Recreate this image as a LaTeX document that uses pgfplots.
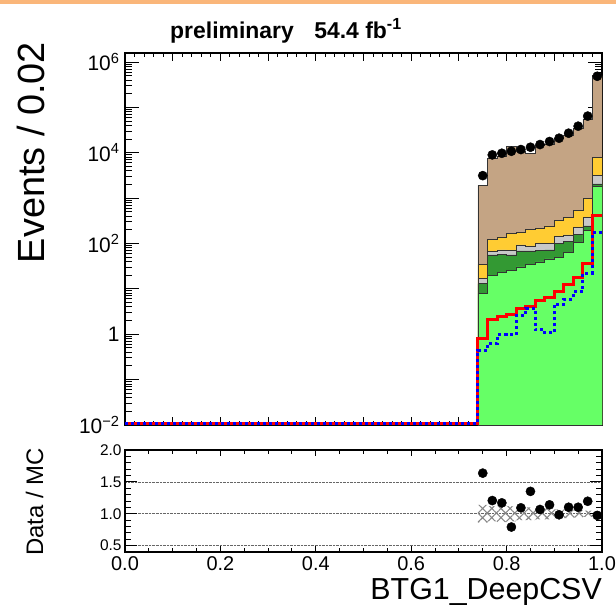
\documentclass[border=0pt]{standalone}
\usepackage{fontspec}
\setmainfont{Liberation Sans}
\usepackage{pgfplots}
\usepackage{pgfplotstable}
\pgfplotsset{compat=1.18}
\usetikzlibrary{patterns.meta}
\definecolor{cbrown}{RGB}{196,164,132}
\definecolor{cyellow}{RGB}{255,204,51}
\definecolor{cgrey}{RGB}{200,200,200}
\definecolor{cdkgreen}{RGB}{51,153,51}
\definecolor{clgreen}{RGB}{102,255,102}
\definecolor{corange}{RGB}{250,182,122}
\definecolor{chatch}{RGB}{135,135,135}

\pgfplotstableread{
x T Y G D L
0.74 1914 34.8 17.1 13.0 7.95
0.76 7435 124.5 66.2 56.0 20.2
0.78 8326 140 72.1 58.0 22.7
0.80 13620 165.6 71.1 56.0 25.6
0.82 10770 174.3 93.1 68.6 30.4
0.84 9800 207 88.5 68.6 34.8
0.86 14220 218 99.5 71.1 39.2
0.88 15530 245 99.5 72.1 45.6
0.90 21280 316 142 100 48.8
0.92 24480 374 155 110 62.9
0.94 34980 545 225 160.6 104.7
0.96 53740 984 374 245 197
0.98 498000 7940 3130 2050 1786
1.00 498000 7940 3130 2050 1786
}\mc

\pgfplotstableread{
x R B
0.00 0.0108 0.0108
0.74 0.80 0.44
0.76 2.11 0.63
0.78 2.41 0.98
0.80 2.73 0.98
0.82 3.70 2.6
0.84 4.16 3.76
0.86 5.57 1.27
0.88 6.36 1.07
0.90 8.94 4.54
0.92 12.6 5.86
0.94 18.2 8.63
0.96 36.7 22.0
0.98 423 174
1.00 423 174
}\sig

\pgfplotstableread{
x d r
0.75 3133 1.637
0.77 8974 1.207
0.79 9750 1.171
0.81 10790 0.792
0.83 11770 1.093
0.85 13240 1.351
0.87 15170 1.067
0.89 17700 1.140
0.91 20940 0.984
0.93 26980 1.102
0.95 38550 1.102
0.97 64270 1.196
0.99 485300 0.974
}\dat

% MC uncertainty band outline: upper edge forward, lower edge backward
\pgfplotstableread{
x y
0.74 1.14
0.76 1.14
0.76 1.12
0.78 1.12
0.78 1.13
0.80 1.13
0.80 1.12
0.82 1.12
0.82 1.10
0.86 1.10
0.86 1.09
0.90 1.09
0.90 1.07
0.94 1.07
0.94 1.06
0.96 1.06
0.96 1.05
0.98 1.05
0.98 1.04
1.00 1.04
1.00 0.96
0.98 0.96
0.98 0.95
0.96 0.95
0.96 0.94
0.94 0.94
0.94 0.93
0.90 0.93
0.90 0.91
0.86 0.91
0.86 0.90
0.82 0.90
0.82 0.88
0.80 0.88
0.80 0.87
0.78 0.87
0.78 0.88
0.76 0.88
0.76 0.86
0.74 0.86
}\band

\begin{document}
\begin{tikzpicture}
\path[use as bounding box] (0,0) rectangle (616bp,-605bp);
\fill[corange] (0,0) rectangle (616bp,-3.5bp);

% main panel: x ticks only (drawn below the histograms)
\begin{axis}[
  at={(125bp,-425bp)}, anchor=south west, scale only axis,
  width=477bp, height=372bp,
  xmin=0, xmax=1, ymin=0, ymax=1,
  axis line style={line width=1.5bp},
  tick align=inside, tick style={black, line width=1bp},
  major tick length=8bp, minor tick length=4bp,
  xtick={0,0.1,0.2,0.3,0.4,0.5,0.6,0.7,0.8,0.9,1}, xticklabels={}, minor x tick num=4,
  ytick=\empty,
]
\addplot[draw=none] coordinates {(0.5,0.5)};
\end{axis}

% main panel: histograms, y ticks
\begin{axis}[
  at={(125bp,-425bp)}, anchor=south west, scale only axis,
  width=477bp, height=372bp,
  xmin=0, xmax=1, ymode=log, ymin=0.01, ymax=1.58e6, log origin=infty,
  axis line style={line width=1.5bp},
  tick align=inside, tick style={black, line width=1bp},
  major tick length=14bp, minor tick length=7bp,
  xtick=\empty,
  ytick={1e-2,1e-1,1,1e1,1e2,1e3,1e4,1e5,1e6},
  yticklabels={10\textsuperscript{−2},,1,,10\textsuperscript{2},,10\textsuperscript{4},,10\textsuperscript{6}},
  minor ytick={2e-2,3e-2,4e-2,5e-2,6e-2,7e-2,8e-2,9e-2,
    0.2,0.3,0.4,0.5,0.6,0.7,0.8,0.9,2,3,4,5,6,7,8,9,
    20,30,40,50,60,70,80,90,200,300,400,500,600,700,800,900,
    2000,3000,4000,5000,6000,7000,8000,9000,
    2e4,3e4,4e4,5e4,6e4,7e4,8e4,9e4,2e5,3e5,4e5,5e5,6e5,7e5,8e5,9e5},
  yticklabel style={font=\fontsize{21}{24}\selectfont, xshift=-2bp},
]
\addplot[const plot, fill=cbrown, draw=black!80, line width=0.7bp] table[x=x,y=T]{\mc} \closedcycle;
\addplot[const plot, fill=cyellow, draw=black!80, line width=0.7bp] table[x=x,y=Y]{\mc} \closedcycle;
\addplot[const plot, fill=cgrey, draw=black!80, line width=0.7bp] table[x=x,y=G]{\mc} \closedcycle;
\addplot[const plot, fill=cdkgreen, draw=black!80, line width=0.7bp] table[x=x,y=D]{\mc} \closedcycle;
\addplot[const plot, fill=clgreen, draw=black!80, line width=0.7bp] table[x=x,y=L]{\mc} \closedcycle;
\addplot[const plot, red, line width=3bp] table[x=x,y=R]{\sig};
\addplot[const plot, blue, line width=3bp, dash pattern=on 3bp off 3bp] table[x=x,y=B]{\sig};
\addplot[only marks, mark=*, mark size=4.6bp, black] table[x=x,y=d]{\dat};
\end{axis}

% ratio panel: x ticks (short) and labels, band
\begin{axis}[
  at={(125bp,-552bp)}, anchor=south west, scale only axis,
  width=477bp, height=102bp,
  xmin=0, xmax=1, ymin=0.4, ymax=2.0,
  axis line style={line width=1.5bp},
  tick align=inside, tick style={black, line width=1bp},
  major tick length=6bp, minor tick length=4bp,
  xtick={0,0.2,0.4,0.6,0.8,1}, minor x tick num=3,
  ytick={0.5,1,1.5}, yticklabels={}, 
  ymajorgrids, grid style={densely dotted, black!60, line width=0.7bp},
  /pgf/number format/assume math mode=true,
  xticklabel style={font=\fontsize{20}{24}\selectfont, yshift=-1bp, /pgf/number format/fixed, /pgf/number format/fixed zerofill, /pgf/number format/precision=1},
]
\addplot[draw=none, pattern={Hatch[angle=45,distance=6.5bp,line width=1.1bp]}, pattern color=chatch] table[x=x,y=y]{\band};
\end{axis}

% ratio panel: y ticks (long), labels and points
\begin{axis}[
  at={(125bp,-552bp)}, anchor=south west, scale only axis,
  width=477bp, height=102bp,
  xmin=0, xmax=1, ymin=0.4, ymax=2.0,
  axis line style={line width=1.5bp},
  tick align=inside, tick style={black, line width=1bp},
  major tick length=12bp, minor tick length=6bp,
  xtick=\empty,
  ytick={0.5,1,1.5,2}, minor y tick num=4,
  /pgf/number format/assume math mode=true,
  yticklabel style={font=\fontsize{15.5}{18}\selectfont, /pgf/number format/fixed, /pgf/number format/fixed zerofill, /pgf/number format/precision=1},
]
\addplot[only marks, mark=*, mark size=4.6bp, black] table[x=x,y=r]{\dat};
\end{axis}

\node[rotate=90, anchor=base east, inner sep=0, font=\fontsize{38}{40}\selectfont] at (44bp,-42bp) {Events / 0.02};
\node[rotate=90, anchor=base, inner sep=0, font=\fontsize{24}{26}\selectfont] at (43bp,-502bp) {Data / MC};
\node[anchor=base east, inner sep=0, font=\fontsize{30.5}{34}\selectfont] at (602bp,-599bp) {BTG1\_DeepCSV};
\node[anchor=base, inner sep=0, font=\bfseries\fontsize{23}{26}\selectfont] at (286bp,-38bp) {preliminary\hspace{0.9em}54.4 fb\textsuperscript{-1}};
\end{tikzpicture}
\end{document}
